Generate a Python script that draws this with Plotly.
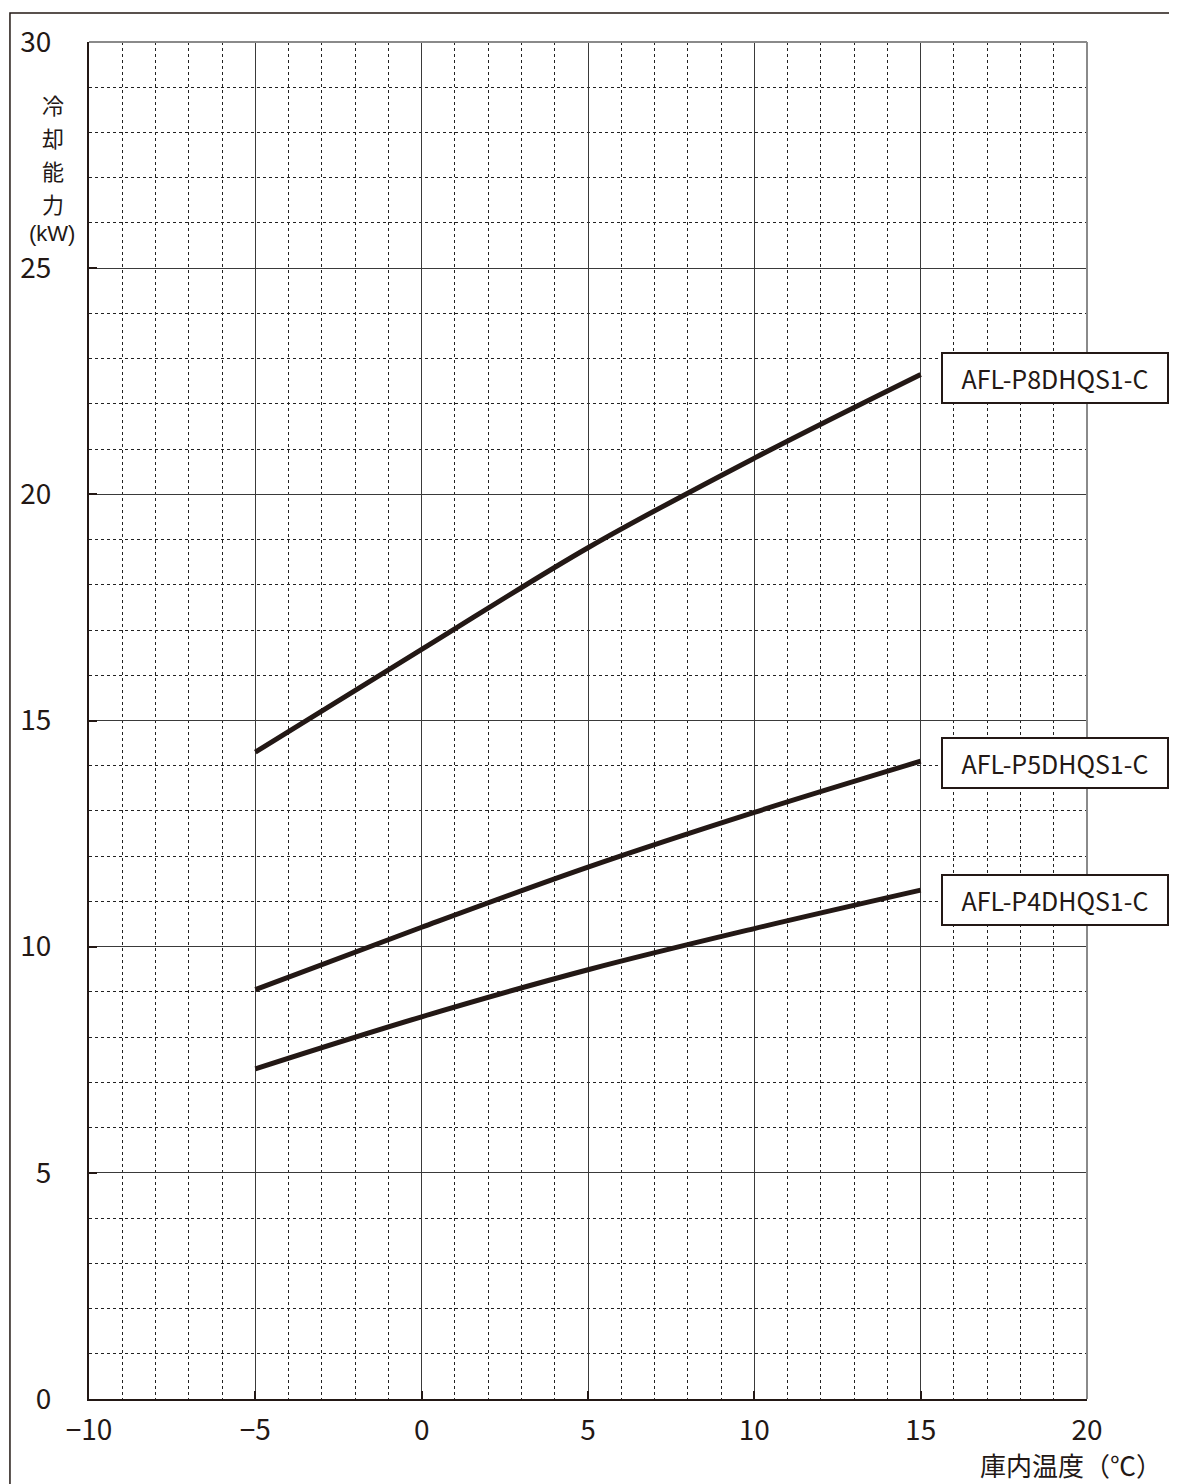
import plotly.graph_objects as go

temps = [-5, 0, 5, 10, 15]
series_names = ["AFL-P8DHQS1-C", "AFL-P5DHQS1-C", "AFL-P4DHQS1-C"]
p8_kw = [14.3, 16.57, 18.82, 20.8, 22.65]
p5_kw = [9.05, 10.43, 11.76, 12.97, 14.1]
p4_kw = [7.3, 8.45, 9.49, 10.4, 11.25]
label_y = [22.57, 14.05, 11.03]

x_range = [-10, 20]
y_range = [0, 30]
x_ticks = [-10, -5, 0, 5, 10, 15, 20]
y_ticks = [0, 5, 10, 15, 20, 25, 30]

y_title_chars = ["冷", "却", "能", "力"]
y_title_pos = [0.9544, 0.9301, 0.9059, 0.8816]
x_title = "庫内温度（℃）"

FONT = "Liberation Sans Narrow, Noto Sans CJK JP, sans-serif"
JP = "Noto Sans CJK JP, sans-serif"
LINE = "#231815"

fig = go.Figure()
for name, vals in zip(series_names, [p8_kw, p5_kw, p4_kw]):
    fig.add_trace(go.Scatter(x=temps, y=vals, mode="lines", name=name,
                             line=dict(color=LINE, width=5, shape="spline"),
                             showlegend=False))

for name, ly in zip(series_names, label_y):
    fig.add_annotation(x=15.6, y=ly, xref="x", yref="y", text=name,
                       showarrow=False, xanchor="left", yanchor="middle",
                       font=dict(family=FONT, size=25, color="#231815"),
                       bgcolor="white", bordercolor="#231815", borderwidth=2,
                       borderpad=4, width=216, height=40, align="center")

for ch, py in zip(y_title_chars, y_title_pos):
    fig.add_annotation(x=-0.036, y=py, xref="paper", yref="paper", text=ch,
                       showarrow=False, xanchor="center", yanchor="middle",
                       font=dict(family=JP, size=22, color="#231815"))
fig.add_annotation(x=-0.037, y=0.8588, xref="paper", yref="paper",
                   text="(kW)", showarrow=False, xanchor="center", yanchor="middle",
                   font=dict(family="Liberation Sans, sans-serif", size=22,
                             color="#231815"))
fig.add_annotation(x=0.984, y=-0.0615, xref="paper", yref="paper",
                   text=x_title, showarrow=False,
                   xanchor="center", yanchor="bottom", height=32,
                   font=dict(family=JP, size=26, color="#231815"))

# top/right frame of plot area in gray
fig.add_shape(type="line", xref="paper", yref="paper", x0=0, x1=1, y0=1, y1=1,
              line=dict(color="#8a8a8a", width=2))
fig.add_shape(type="line", xref="paper", yref="paper", x0=1, x1=1, y0=0, y1=1,
              line=dict(color="#8a8a8a", width=2))
# outer frame of the picture
fig.add_shape(type="rect", xref="paper", yref="paper", x0=-0.0792, x1=1.2,
              y0=-0.2, y1=1.0213, line=dict(color="#231815", width=1.5),
              layer="below")

axis_common = dict(
    showgrid=True, gridcolor="#3a3a3a", gridwidth=1,
    ticks="inside", ticklen=8, tickwidth=2, tickcolor="#231815",
    showline=True, linecolor="#231815", linewidth=2,
    zeroline=False,
    tickfont=dict(family=FONT, size=28, color="#231815"),
    minor=dict(dtick=1, showgrid=True, griddash="dot", gridcolor="#222222",
               gridwidth=1, ticks=""),
)

fig.update_xaxes(range=x_range, tickvals=x_ticks, ticklabelstandoff=5,
                 tick0=-10, **axis_common)
fig.update_yaxes(range=y_range, tickvals=y_ticks, ticklabelstandoff=30,
                 tick0=0, **axis_common)

fig.update_layout(
    width=1177, height=1484,
    margin=dict(l=81, r=98, t=31, b=93),
    plot_bgcolor="white", paper_bgcolor="white",
)

fig.write_html("out.html")
